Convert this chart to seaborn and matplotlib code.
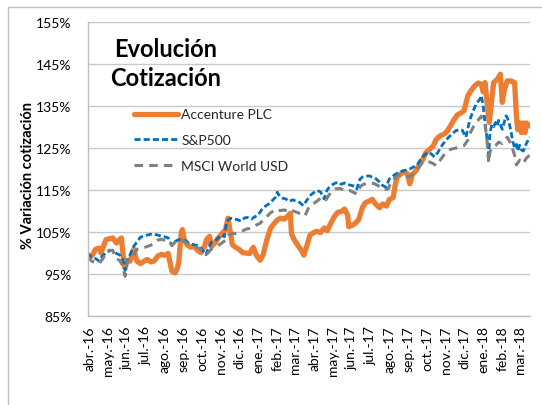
import matplotlib
matplotlib.use("Agg")
import matplotlib.pyplot as plt
import pandas as pd
import seaborn as sns
from matplotlib.patches import Rectangle

# ---------------- data ----------------
start_date = "2016-03-29"

acn_days = [0, 7, 13, 19, 22, 24, 30, 35, 41, 47, 52, 55, 59, 61, 63, 69, 75, 80, 86, 92,
            97, 103, 108, 114, 120, 125, 131, 134, 137, 142, 145, 148, 152, 154, 157, 162,
            167, 173, 179, 184, 190, 193, 198, 201, 207, 212, 218, 224, 228, 232, 235, 240,
            246, 252, 257, 263, 269, 274, 280, 285, 291, 297, 302, 308, 313, 319, 325, 329,
            331, 336, 342, 347, 351, 356, 361, 367, 372, 378, 384, 389, 395, 401, 406, 412,
            417, 422, 424, 429, 434, 440, 446, 451, 457, 462, 468, 474, 479, 485, 490, 496,
            499, 502, 507, 513, 519, 523, 527, 533, 538, 544, 549, 555, 561, 566, 572, 578,
            583, 589, 594, 600, 606, 611, 617, 622, 628, 634, 639, 642, 645, 649, 652, 656,
            659, 665, 670, 673, 676, 679, 681, 687, 693, 696, 698, 701, 704, 707, 710, 712, 718]
acn_vals = [99.0, 99.2, 100.8, 101.1, 99.9, 100.8, 103.1, 103.3, 103.5, 102.3, 103.1, 103.5,
            97.6, 96.3, 98.0, 98.0, 100.8, 98.0, 97.4, 98.0, 98.4, 97.8, 98.0, 99.2, 99.6, 99.4,
            99.8, 97.6, 95.6, 95.2, 96.0, 97.6, 104.7, 105.5, 103.1, 101.8, 101.3, 101.5, 100.5,
            100.0, 101.5, 103.1, 103.9, 101.5, 102.3, 103.5, 104.5, 105.5, 108.2, 104.7, 101.9,
            101.3, 100.8, 100.0, 99.9, 99.8, 101.3, 99.4, 98.2, 99.5, 103.1, 105.8, 106.8, 107.8,
            108.2, 108.0, 108.7, 109.4, 104.5, 102.9, 101.6, 100.6, 99.4, 101.7, 104.2, 104.8,
            105.1, 104.8, 105.9, 105.2, 107.1, 108.7, 109.6, 109.8, 110.4, 109.0, 106.2, 106.5,
            106.9, 107.9, 110.7, 111.9, 112.3, 112.7, 111.5, 110.7, 111.6, 111.1, 112.7, 113.1,
            115.9, 117.8, 118.6, 119.3, 118.8, 116.4, 118.6, 119.5, 120.8, 122.2, 123.8, 124.6,
            125.4, 127.0, 127.8, 128.2, 128.8, 130.2, 131.5, 132.8, 133.3, 133.8, 137.3, 138.5,
            139.7, 140.4, 140.1, 138.3, 140.5, 134.9, 131.0, 136.5, 140.5, 141.3, 142.5, 135.8,
            138.5, 140.0, 140.9, 140.9, 140.5, 132.5, 129.3, 130.9, 128.6, 130.9, 128.6, 130.9,
            130.1]

spx_days = [0, 4, 13, 19, 24, 30, 35, 41, 47, 52, 57, 61, 65, 69, 75, 80, 86, 92, 97, 103,
            108, 114, 120, 125, 131, 137, 142, 148, 153, 159, 165, 170, 176, 181, 187, 192,
            196, 201, 207, 212, 218, 222, 226, 232, 238, 243, 249, 255, 260, 266, 271, 277,
            283, 288, 294, 299, 305, 308, 312, 316, 322, 327, 333, 339, 344, 350, 356, 361,
            367, 372, 378, 384, 389, 395, 401, 406, 412, 417, 423, 429, 434, 437, 442, 446,
            451, 457, 462, 468, 474, 479, 484, 490, 496, 502, 507, 513, 519, 524, 530, 535,
            541, 547, 552, 558, 563, 569, 575, 580, 586, 592, 597, 603, 608, 614, 620, 625,
            631, 637, 639, 642, 645, 648, 651, 653, 656, 659, 662, 665, 667, 670, 673, 676,
            679, 681, 684, 687, 690, 693, 696, 698, 701, 704, 707, 710, 712, 718]
spx_vals = [100.0, 99.2, 98.6, 98.0, 99.2, 100.0, 100.4, 100.6, 99.8, 99.5, 98.5, 95.8, 98.5,
            99.5, 101.5, 102.5, 103.7, 104.0, 104.2, 104.4, 104.4, 104.2, 103.9, 103.8, 103.5,
            101.7, 102.7, 103.1, 103.2, 102.8, 102.3, 102.0, 101.8, 101.6, 100.5, 99.5, 101.0,
            102.5, 102.8, 103.5, 104.2, 103.8, 107.5, 108.2, 108.0, 107.9, 107.5, 108.3, 108.4,
            108.0, 108.5, 109.0, 110.3, 111.0, 111.6, 112.3, 113.2, 114.4, 113.4, 113.0, 112.8,
            112.2, 112.6, 112.2, 112.0, 111.2, 112.5, 113.6, 114.3, 114.8, 114.5, 112.8, 115.0,
            116.0, 116.5, 116.8, 116.3, 116.6, 116.2, 116.0, 115.8, 115.2, 117.5, 118.0, 118.2,
            118.3, 118.0, 117.6, 116.8, 116.0, 115.6, 117.6, 118.3, 118.9, 119.2, 119.5, 119.8,
            120.0, 120.5, 120.9, 122.3, 123.3, 123.9, 123.5, 122.8, 124.0, 125.5, 126.5, 127.5,
            128.3, 129.0, 129.3, 129.2, 127.5, 131.5, 133.5, 135.5, 136.6, 137.4, 135.0, 131.0,
            127.5, 123.3, 128.5, 130.5, 130.0, 131.0, 130.2, 131.5, 130.5, 129.4, 131.0, 132.6,
            132.2, 131.0, 129.0, 126.5, 125.0, 125.8, 124.2, 125.6, 124.5, 124.2, 125.0, 126.0,
            127.5]

msci_days = [0, 7, 13, 19, 24, 30, 35, 41, 47, 52, 57, 61, 65, 69, 75, 80, 86, 92, 97, 103,
             108, 114, 120, 125, 131, 137, 142, 148, 153, 159, 165, 170, 176, 181, 187, 192,
             196, 201, 207, 212, 218, 224, 229, 235, 240, 246, 252, 257, 263, 269, 274, 280,
             285, 291, 297, 302, 308, 313, 319, 325, 330, 336, 342, 347, 353, 358, 364, 370,
             375, 381, 387, 392, 398, 403, 409, 415, 420, 426, 431, 437, 443, 448, 454, 460,
             465, 471, 476, 482, 488, 493, 499, 505, 510, 516, 521, 527, 533, 538, 544, 549,
             555, 561, 566, 572, 578, 583, 589, 594, 600, 606, 611, 617, 622, 628, 634, 639,
             645, 648, 651, 653, 656, 662, 667, 673, 679, 681, 687, 693, 696, 701, 707, 712, 718]
msci_vals = [99.0, 98.0, 97.6, 97.4, 98.4, 99.8, 100.6, 100.5, 98.5, 98.2, 97.0, 94.4, 98.0,
             98.8, 99.2, 100.8, 101.1, 101.2, 101.5, 101.8, 102.2, 103.0, 103.2, 103.0, 102.8,
             101.7, 102.5, 103.0, 103.0, 102.5, 102.0, 101.6, 101.4, 101.0, 100.4, 99.6, 100.0,
             100.9, 101.3, 101.7, 102.3, 103.0, 104.3, 104.5, 104.6, 104.8, 105.2, 105.6, 105.8,
             106.2, 106.6, 107.0, 107.8, 108.6, 109.5, 110.0, 110.4, 110.0, 110.2, 109.8, 110.2,
             109.8, 109.5, 109.0, 108.8, 110.5, 111.5, 112.0, 112.6, 113.2, 112.6, 113.8, 114.8,
             115.2, 115.3, 115.0, 114.6, 114.8, 114.4, 114.0, 115.8, 116.3, 116.5, 116.4, 116.5,
             116.0, 115.5, 115.0, 115.2, 117.0, 117.8, 118.5, 118.6, 118.3, 118.0, 118.6, 119.5,
             120.6, 121.5, 121.9, 121.6, 121.2, 120.7, 122.0, 123.2, 124.0, 124.6, 124.8, 125.0,
             125.3, 125.5, 126.8, 128.8, 130.5, 131.6, 132.5, 130.5, 127.0, 121.4, 124.0, 125.0,
             125.5, 126.3, 126.0, 127.1, 127.5, 126.0, 123.2, 120.9, 122.0, 121.2, 122.5, 123.3]

series_names = ["Accenture PLC", "S&P500", "MSCI World USD"]
month_labels = ["abr.-16", "may.-16", "jun.-16", "jul.-16", "ago.-16", "sep.-16", "oct.-16",
                "nov.-16", "dic.-16", "ene.-17", "feb.-17", "mar.-17", "abr.-17", "may.-17",
                "jun.-17", "jul.-17", "ago.-17", "sep.-17", "oct.-17", "nov.-17", "dic.-17",
                "ene.-18", "feb.-18", "mar.-18"]
y_ticks = [85, 95, 105, 115, 125, 135, 145, 155]
y_tick_labels = ["85%", "95%", "105%", "115%", "125%", "135%", "145%", "155%"]
title_lines = ["Evolución", "Cotización"]
y_label = "% Variación cotización"

# ---------------- build frames ----------------
t0 = pd.Timestamp(start_date)


def frame(days, vals):
    return pd.DataFrame({"date": t0 + pd.to_timedelta(days, unit="D"), "value": vals})


frames = [frame(acn_days, acn_vals), frame(spx_days, spx_vals), frame(msci_days, msci_vals)]
colors = ["#ED7D31", "#0070C0", "#808080"]
widths = [3.8, 2.0, 2.2]
styles = ["-", (0, (2.2, 1.1)), (0, (2.8, 2.0))]

sns.set_theme(style="white")
plt.rcParams["font.family"] = ["Lato", "DejaVu Sans"]

fig = plt.figure(figsize=(5.42, 4.06), dpi=100)
fig.patch.set_facecolor("white")
ax = fig.add_axes([87.5 / 542, 1 - 316.7 / 406, 442.5 / 542, 294 / 406])

for df, name, c, w, s in zip(frames, series_names, colors, widths, styles):
    sns.lineplot(data=df, x="date", y="value", ax=ax, color=c, linewidth=w,
                 linestyle=s, label=name, estimator=None, legend=False)

ax.set_xlim(t0, t0 + pd.Timedelta(days=718))
ax.set_ylim(y_ticks[0], y_ticks[-1])
ax.set_yticks(y_ticks)
ax.set_yticklabels(y_tick_labels)
tick_dates = pd.date_range("2016-04-01", periods=len(month_labels), freq="MS")
ax.set_xticks(tick_dates)
ax.set_xticklabels(month_labels, rotation=90)
ax.tick_params(axis="y", length=0, pad=11.5, labelsize=10, labelcolor="black")
ax.tick_params(axis="x", length=0, pad=7, labelsize=10, labelcolor="black")
for lab in ax.get_xticklabels():
    lab.set_va("top")

ax.yaxis.grid(True, color="#c8c8c8", linewidth=1.0)
ax.xaxis.grid(False)
ax.set_axisbelow(True)
for side in ["top", "right"]:
    ax.spines[side].set_visible(False)
for side in ["left", "bottom"]:
    ax.spines[side].set_color("#bfbfbf")
    ax.spines[side].set_linewidth(1.0)

ax.set_xlabel("")
ax.set_ylabel(y_label, fontsize=10.5, fontweight="bold", color="black")
ax.yaxis.set_label_coords(-0.118, 0.479)

ax.text(0.177, 0.884, title_lines[0], transform=ax.transAxes, ha="center",
        va="baseline", fontsize=17, fontweight="bold", color="black")
ax.text(0.177, 0.786, title_lines[1], transform=ax.transAxes, ha="center",
        va="baseline", fontsize=17, fontweight="bold", color="black")

handles = ax.get_lines()[:3]
ax.legend(handles, series_names, loc="upper left", bbox_to_anchor=(0.105, 0.705),
          frameon=False, fontsize=10, handlelength=3.17, handletextpad=0.25,
          labelspacing=1.0, borderpad=0, borderaxespad=0)

fig.add_artist(Rectangle((7.5 / 542, -0.05), 1.2, (406 - 7.7) / 406 + 0.05,
                         transform=fig.transFigure, fill=False,
                         edgecolor="#bfbfbf", linewidth=1.0))

fig.savefig("out.png", dpi=100, facecolor="white")
